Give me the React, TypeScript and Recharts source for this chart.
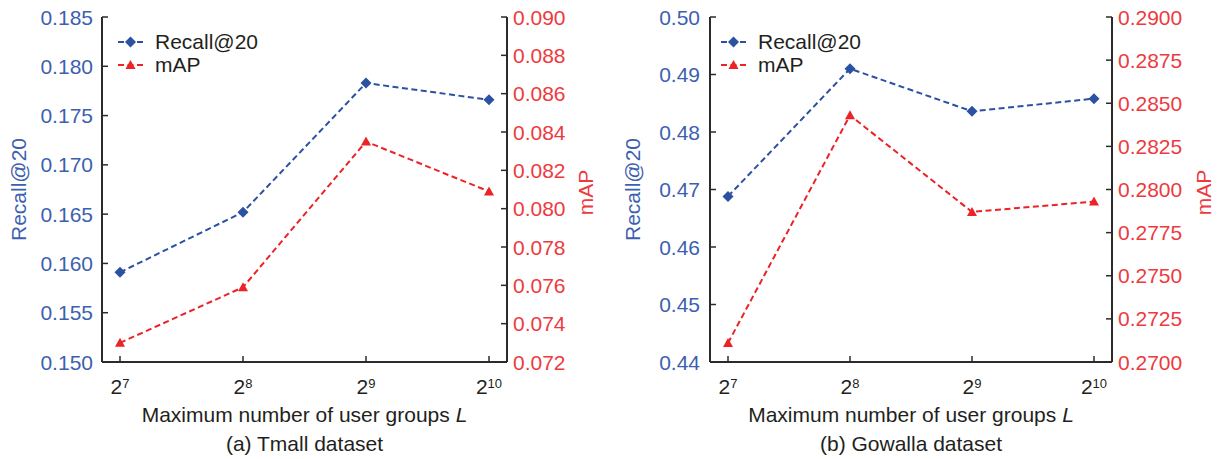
import { Line, LineChart, XAxis, YAxis } from "recharts";

const exponents = ["7", "8", "9", "10"];

const tmallRecall = [0.1591, 0.1652, 0.1783, 0.1766];
const tmallMap = [0.073, 0.0759, 0.0835, 0.0809];
const gowallaRecall = [0.4688, 0.491, 0.4836, 0.4858];
const gowallaMap = [0.2711, 0.2843, 0.2787, 0.2793];

const tmallRecallTicks = [0.15, 0.155, 0.16, 0.165, 0.17, 0.175, 0.18, 0.185];
const tmallMapTicks = [0.072, 0.074, 0.076, 0.078, 0.08, 0.082, 0.084, 0.086, 0.088, 0.09];
const gowallaRecallTicks = [0.44, 0.45, 0.46, 0.47, 0.48, 0.49, 0.5];
const gowallaMapTicks = [0.27, 0.2725, 0.275, 0.2775, 0.28, 0.2825, 0.285, 0.2875, 0.29];

const BLUE = "#2b51a3";
const BLUE_TEXT = "#3d5fb0";
const RED = "#ec2227";
const RED_TEXT = "#ee3a3e";
const AXIS = "#2b2b2b";
const TEXT = "#231f20";
const FONT = "'Liberation Sans', Arial, sans-serif";
const FS = 21;

function Diamond({ cx, cy, index }: any) {
  if (cx == null || cy == null) return <g key={index} />;
  const r = 5.5;
  return (
    <polygon
      key={index}
      points={`${cx},${cy - r} ${cx + r},${cy} ${cx},${cy + r} ${cx - r},${cy}`}
      fill={BLUE}
    />
  );
}

function Triangle({ cx, cy, index }: any) {
  if (cx == null || cy == null) return <g key={index} />;
  return (
    <polygon key={index} points={`${cx},${cy - 5} ${cx + 5},${cy + 4} ${cx - 5},${cy + 4}`} fill={RED} />
  );
}

function makeYTick(side: "left" | "right", digits: number, color: string, gap: number) {
  return (props: any) => {
    const { x, y, payload } = props;
    const dir = side === "left" ? 1 : -1;
    return (
      <g>
        <line x1={x} x2={x + dir * 6} y1={y} y2={y} stroke={AXIS} strokeWidth={1.5} />
        <text
          x={x - dir * gap}
          y={y}
          textAnchor={side === "left" ? "end" : "start"}
          dominantBaseline="central"
          fill={color}
          fontSize={FS}
          fontFamily={FONT}
        >
          {Number(payload.value).toFixed(digits)}
        </text>
      </g>
    );
  };
}

function XTick(props: any) {
  const { x, y, payload } = props;
  return (
    <g>
      <line x1={x} x2={x} y1={y} y2={y - 6} stroke={AXIS} strokeWidth={1.5} />
      <text x={x} y={y + 32} textAnchor="middle" fill={TEXT} fontSize={FS} fontFamily={FONT}>
        <tspan>2</tspan>
        <tspan dy={-6} fontSize={13}>
          {payload.value}
        </tspan>
      </text>
    </g>
  );
}

type PanelProps = {
  recall: number[];
  map: number[];
  recallTicks: number[];
  mapTicks: number[];
  recallDigits: number;
  mapDigits: number;
  caption: string;
  leftW: number;
  rightW: number;
  marginRight: number;
  leftGap: number;
  recallLabelX: number;
  mapLabelX: number;
  legendLeft: number;
};

function Panel(p: PanelProps) {
  const data = exponents.map((g, i) => ({ g, recall: p.recall[i], map: p.map[i] }));
  return (
    <div style={{ position: "relative", width: 610, height: 459 }}>
      <LineChart
        width={610}
        height={459}
        data={data}
        margin={{ top: 17, right: p.marginRight, bottom: 0, left: 0 }}
      >
        <XAxis
          dataKey="g"
          height={97}
          padding={{ left: 18, right: 18 }}
          tickSize={0}
          tickMargin={0}
          tickLine={false}
          axisLine={{ stroke: AXIS, strokeWidth: 2 }}
          tick={XTick}
          interval={0}
          label={{
            content: (lp: any) => {
              const vb = lp.viewBox;
              const cx = vb.x + vb.width / 2;
              return (
                <g fontFamily={FONT} fontSize={FS}>
                  <text x={cx} y={vb.y + 60} textAnchor="middle" fill={TEXT}>
                    Maximum number of user groups <tspan fontStyle="italic">L</tspan>
                  </text>
                  <text x={cx} y={vb.y + 89} textAnchor="middle" fill={TEXT}>
                    {p.caption}
                  </text>
                </g>
              );
            },
          }}
        />
        <XAxis
          xAxisId="top"
          dataKey="g"
          orientation="top"
          height={0}
          tick={false}
          tickLine={false}
          axisLine={{ stroke: AXIS, strokeWidth: 2 }}
        />
        <YAxis
          yAxisId="l"
          width={p.leftW}
          domain={[p.recallTicks[0], p.recallTicks[p.recallTicks.length - 1]]}
          ticks={p.recallTicks}
          allowDataOverflow
          tickSize={0}
          tickMargin={0}
          tickLine={false}
          axisLine={{ stroke: AXIS, strokeWidth: 2 }}
          tick={makeYTick("left", p.recallDigits, BLUE_TEXT, p.leftGap)}
          interval={0}
          label={{
            content: (lp: any) => {
              const vb = lp.viewBox;
              const cy = vb.y + vb.height / 2;
              const x = vb.x + p.recallLabelX;
              return (
                <text
                  x={x}
                  y={cy}
                  transform={`rotate(-90 ${x} ${cy})`}
                  textAnchor="middle"
                  dominantBaseline="central"
                  fill={BLUE_TEXT}
                  fontSize={FS}
                  fontFamily={FONT}
                >
                  Recall@20
                </text>
              );
            },
          }}
        />
        <YAxis
          yAxisId="r"
          orientation="right"
          width={p.rightW}
          domain={[p.mapTicks[0], p.mapTicks[p.mapTicks.length - 1]]}
          ticks={p.mapTicks}
          allowDataOverflow
          tickSize={0}
          tickMargin={0}
          tickLine={false}
          axisLine={{ stroke: AXIS, strokeWidth: 2 }}
          tick={makeYTick("right", p.mapDigits, RED_TEXT, 6)}
          interval={0}
          label={{
            content: (lp: any) => {
              const vb = lp.viewBox;
              const cy = vb.y + vb.height / 2 + 3;
              const x = vb.x + p.mapLabelX;
              return (
                <text
                  x={x}
                  y={cy}
                  transform={`rotate(-90 ${x} ${cy})`}
                  textAnchor="middle"
                  dominantBaseline="central"
                  fill={RED_TEXT}
                  fontSize={FS}
                  fontFamily={FONT}
                >
                  mAP
                </text>
              );
            },
          }}
        />
        <Line
          yAxisId="l"
          dataKey="recall"
          stroke={BLUE}
          strokeWidth={2}
          strokeDasharray="6 3.5"
          dot={Diamond}
          activeDot={false}
          isAnimationActive={false}
        />
        <Line
          yAxisId="r"
          dataKey="map"
          stroke={RED}
          strokeWidth={2}
          strokeDasharray="6 3.5"
          dot={Triangle}
          activeDot={false}
          isAnimationActive={false}
        />
      </LineChart>
      <div
        style={{
          position: "absolute",
          left: p.legendLeft,
          top: 30,
          fontFamily: FONT,
          fontSize: FS,
          color: TEXT,
          lineHeight: "22px",
        }}
      >
        {[
          { name: "Recall@20", color: BLUE, shape: "d" },
          { name: "mAP", color: RED, shape: "t" },
        ].map((s) => (
          <div key={s.name} style={{ display: "flex", alignItems: "center", height: 23 }}>
            <svg width={34} height={16} style={{ marginRight: 4 }}>
              <line x1={1} x2={26} y1={8} y2={8} stroke={s.color} strokeWidth={2} strokeDasharray="6 3.5" />
              {s.shape === "d" ? (
                <polygon points="13.5,2.5 19,8 13.5,13.5 8,8" fill={s.color} />
              ) : (
                <polygon points="13.5,3 18.5,12 8.5,12" fill={s.color} />
              )}
            </svg>
            <span>{s.name}</span>
          </div>
        ))}
      </div>
    </div>
  );
}

export default function App() {
  return (
    <div style={{ position: "absolute", left: 0, top: 0, width: 1220, height: 459, background: "#fff", display: "flex" }}>
      <Panel
        recall={tmallRecall}
        map={tmallMap}
        recallTicks={tmallRecallTicks}
        mapTicks={tmallMapTicks}
        recallDigits={3}
        mapDigits={3}
        caption="(a) Tmall dataset"
        leftW={102}
        rightW={80}
        marginRight={23}
        leftGap={9}
        recallLabelX={18}
        mapLabelX={78}
        legendLeft={117}
      />
      <Panel
        recall={gowallaRecall}
        map={gowallaMap}
        recallTicks={gowallaRecallTicks}
        mapTicks={gowallaMapTicks}
        recallDigits={2}
        mapDigits={4}
        caption="(b) Gowalla dataset"
        leftW={100}
        rightW={85}
        marginRight={23}
        leftGap={10}
        recallLabelX={22}
        mapLabelX={91}
        legendLeft={110}
      />
    </div>
  );
}
